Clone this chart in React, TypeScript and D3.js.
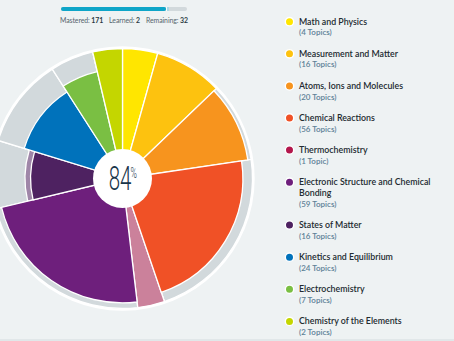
import React from "react";
import * as d3 from "d3";

const categories = [
  "Math and Physics",
  "Measurement and Matter",
  "Atoms, Ions and Molecules",
  "Chemical Reactions",
  "Thermochemistry",
  "Electronic Structure and Chemical Bonding",
  "States of Matter",
  "Kinetics and Equilibrium",
  "Electrochemistry",
  "Chemistry of the Elements",
];
const topics = [4, 16, 20, 56, 1, 59, 16, 24, 7, 2];
const mastered = [4, 16, 19, 48, 0, 54, 8, 15, 5, 2];
const learned = [0, 0, 0, 0, 1, 0, 1, 0, 0, 0];
const colors = ["#ffe600", "#fdc20f", "#f7941e", "#f05126", "#b3174c", "#6e1f7c", "#4e2261", "#0072bb", "#7abf43", "#c4d600"];
const learnedColors = ["#fff080", "#fee08a", "#fbc98e", "#f7a892", "#cb819b", "#b08fba", "#9f86a8", "#7fb6dc", "#bcdfa1", "#e1ea80"];

const W = 454, H = 341;
const cx = 122.5, cy = 178.5;
const R = 130, r0 = 29.5;
const PAD = 8.8; // minimum angular weight per slice
const BG = "#eef2f3";
const GREY = "#d2d9dc";
const FONT = "Lato, 'Open Sans', sans-serif";

function wrap(s: string, max: number): string[] {
  const words = s.split(" ");
  const lines: string[] = [];
  let cur = "";
  for (const w of words) {
    const t = cur ? cur + " " + w : w;
    if (t.length > max && cur) { lines.push(cur); cur = w; } else cur = t;
  }
  if (cur) lines.push(cur);
  return lines;
}

export default function App() {
  const idx = d3.range(categories.length);
  const pie = d3.pie<number>().sort(null).value((i) => topics[i] + PAD).startAngle(0).endAngle(2 * Math.PI).padAngle(0);
  const arcsData = pie(idx);
  const totalTopics = d3.sum(topics);
  const totalMastered = d3.sum(mastered);
  const totalLearned = d3.sum(learned);
  const remaining = totalTopics - totalMastered - totalLearned;
  const pct = Math.round(((totalMastered + totalLearned) / totalTopics) * 100);

  // area-proportional radius
  const rScale = (f: number) => R * Math.sqrt(f);
  const arc = d3.arc<any>();

  // progress bar
  const bx = d3.scaleLinear().domain([0, totalTopics]).range([61, 187]);

  // legend
  let extra = 0;
  const legend = categories.map((c, i) => {
    const lines = wrap(c, 34);
    const y = 21.7 + 32.1 * i + 10.8 * extra;
    extra += lines.length - 1;
    return { c, lines, y, i };
  });

  return (
    <svg width={W} height={H} style={{ position: "absolute", left: 0, top: 0, background: BG }} fontFamily={FONT}>
      <rect x={0} y={0} width={W} height={H} fill={BG} />
      <rect x={0} y={339} width={W} height={2} fill="#e1e7e9" />

      {/* progress bar */}
      <rect x={bx(0)} y={7} width={bx(totalTopics) - bx(0)} height={4} rx={2} fill={GREY} />
      <rect x={bx(0)} y={7} width={bx(totalMastered) - bx(0)} height={4} rx={2} fill="#0ea5c8" />
      <rect x={bx(totalMastered)} y={7} width={1.2} height={4} fill="#ffffff" />
      <rect x={bx(totalMastered) + 1.2} y={7} width={Math.max(1, bx(totalMastered + totalLearned) - bx(totalMastered))} height={4} fill="#8fd8ea" />
      <text x={60} y={22.5} fontSize={6.9} fill="#56656e" textLength={128} lengthAdjust="spacing">
        Mastered: <tspan fontWeight={700} fill="#2b3b44">{totalMastered}</tspan>
        <tspan dx={6}>Learned: </tspan><tspan fontWeight={700} fill="#2b3b44">{totalLearned}</tspan>
        <tspan dx={6}>Remaining: </tspan><tspan fontWeight={700} fill="#2b3b44">{remaining}</tspan>
      </text>

      {/* pie */}
      <g transform={`translate(${cx},${cy})`}>
        <circle r={R + 2.2} fill="#ffffff" />
        {arcsData.map((a) => (
          <path key={"g" + a.index} d={arc({ innerRadius: 0, outerRadius: R, startAngle: a.startAngle, endAngle: a.endAngle }) as string}
            fill={GREY} stroke="#ffffff" strokeWidth={1.3} />
        ))}
        {arcsData.map((a) => {
          const i = a.data;
          const rl = rScale((mastered[i] + learned[i]) / topics[i]);
          return learned[i] > 0 ? (
            <path key={"l" + i} d={arc({ innerRadius: 0, outerRadius: rl, startAngle: a.startAngle, endAngle: a.endAngle }) as string}
              fill={learnedColors[i]} stroke="#ffffff" strokeWidth={1.3} />
          ) : null;
        })}
        {arcsData.map((a) => {
          const i = a.data;
          if (mastered[i] === 0) return null;
          const rm = rScale(mastered[i] / topics[i]);
          return (
            <path key={"m" + i} d={arc({ innerRadius: 0, outerRadius: rm, startAngle: a.startAngle, endAngle: a.endAngle }) as string}
              fill={colors[i]} stroke="#ffffff" strokeWidth={1.3} />
          );
        })}
        <circle r={r0} fill="#ffffff" />
        <g transform="scale(0.62,1)">
          <text x={-4} y={11} textAnchor="middle" fontFamily="Roboto, sans-serif" fontWeight={300} fontSize={33} fill="#17344a">{pct}</text>
          <text x={13} y={-1} textAnchor="start" fontFamily="Roboto, sans-serif" fontWeight={300} fontSize={14} fill="#17344a">%</text>
        </g>
      </g>

      {/* legend */}
      {legend.map((d) => (
        <g key={d.c}>
          <circle cx={289.5} cy={d.y} r={4.2} fill={colors[d.i]} stroke="#ffffff" strokeWidth={1.4} />
          {d.lines.map((l, k) => (
            <text key={k} x={299} y={d.y + 10.8 * k} dy="0.35em" fontSize={8.8} fontWeight={600} fill="#222a30">{l}</text>
          ))}
          <text x={299} y={d.y + 10.8 * d.lines.length} dy="0.35em" fontSize={8} fontWeight={600} fill="#5d8197">
            ({topics[d.i]} {topics[d.i] === 1 ? "Topic" : "Topics"})
          </text>
        </g>
      ))}
    </svg>
  );
}
